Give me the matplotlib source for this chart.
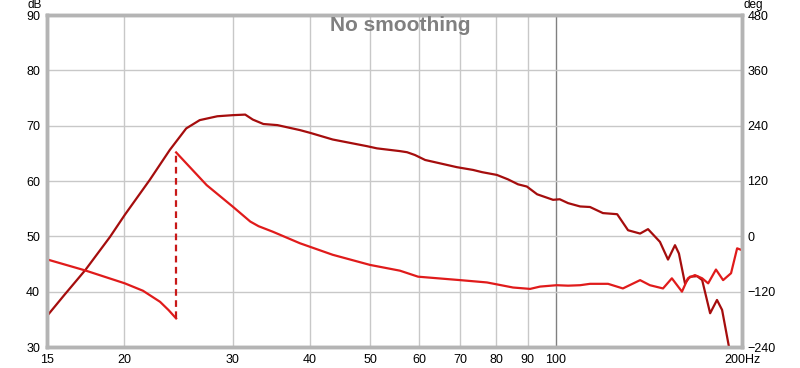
import matplotlib.pyplot as plt

# SPL curve (dB)
spl_freq = [15, 16, 17.3, 18.97, 20.05, 22.0, 23.7, 25.2, 26.5, 28.3, 30, 31.4, 32.3,
            33.6, 35.4, 38.5, 40, 43.5, 49.4, 51.3, 55.9, 57.4, 59.1, 61.4, 69.1, 73.4,
            75.9, 80.2, 83.6, 86.8, 89.7, 93.2, 98.9, 101.4, 104.6, 109.4, 113.5, 119.1,
            125.6, 130.8, 136.8, 140.9, 147.3, 151.8, 155.8, 158.1, 161.7, 164.7, 169.2,
            172.4, 177.6, 182.2, 185.7, 190.5]
spl_db = [35.6, 39.4, 43.9, 49.9, 53.9, 60.2, 65.6, 69.5, 71.0, 71.7, 71.9, 72.0, 71.1,
          70.3, 70.1, 69.2, 68.7, 67.5, 66.3, 65.9, 65.4, 65.2, 64.7, 63.8, 62.5, 62.0,
          61.6, 61.1, 60.3, 59.4, 59.0, 57.6, 56.6, 56.7, 56.0, 55.4, 55.3, 54.2,
          54.0, 51.1, 50.5, 51.3, 49.0, 45.8, 48.4, 46.9, 41.5, 42.7, 42.8,
          42.1, 36.1, 38.5, 36.7, 30.05]

# phase (deg), wrapped at ~24.3 Hz
ph1_freq = [15, 17.3, 20.05, 21.45, 22.86, 23.6, 24.27]
ph1_deg = [-50, -74, -102, -118, -142, -160, -178]
ph2_freq = [24.27, 27.2, 30, 32, 33, 34.8, 38.5, 43.5, 50, 55.9, 59.8, 70, 77.3, 85.2,
            90.8, 94.2, 100.2, 104.6, 109.4, 113.5, 121.4, 128.3, 136.8, 141.9, 149,
            154, 159.9, 163.5, 167.8, 172.4, 176.3, 181.5, 186.4, 192.0, 196.4, 200]
ph2_deg = [182, 111, 64, 32, 22, 10, -15, -40, -62, -74.5, -87.5, -95, -100, -111,
           -114, -109, -106, -107, -106, -103, -103, -113, -95, -106, -113,
           -91, -120, -91, -84, -91, -102, -72, -95, -80, -26, -30]

xticks = [15, 20, 30, 40, 50, 60, 70, 80, 90, 100, 200]
xlabels = ["15", "20", "30", "40", "50", "60", "70", "80", "90", "100", "200Hz"]
db_ticks = [30, 40, 50, 60, 70, 80, 90]
deg_ticks = [-240, -120, 0, 120, 240, 360, 480]

plt.rcParams["font.family"] = ["Liberation Sans", "DejaVu Sans"]

fig = plt.figure(figsize=(8, 3.68), dpi=100)
ax = fig.add_axes([47 / 800, 21 / 368, 695 / 800, 332 / 368])
ax.set_xscale("log")
ax.set_xlim(15, 200)
ax.set_ylim(30, 90)

# grid
for f in xticks[1:-1]:
    ax.axvline(f, color="#808080" if f == 100 else "#c8c8c8", lw=1, zorder=0)
for d in db_ticks[1:-1]:
    ax.axhline(d, color="#c8c8c8", lw=1, zorder=0)

ax.plot(spl_freq, spl_db, color="#a50d0d", lw=1.6, zorder=3)

ax.set_xticks(xticks)
ax.set_xticklabels(xlabels)
ax.xaxis.set_minor_locator(plt.NullLocator())
ax.set_yticks(db_ticks)
ax.tick_params(length=0, labelsize=9, pad=5)

ax2 = ax.twinx()
ax2.set_ylim(-240, 480)
ax2.set_yticks(deg_ticks)
ax2.tick_params(length=0, labelsize=9, pad=4)
ax2.plot(ph1_freq, ph1_deg, color="#e01b1b", lw=1.6)
ax2.plot(ph2_freq, ph2_deg, color="#e01b1b", lw=1.6)
ax2.plot([ph1_freq[-1], ph2_freq[0]], [ph1_deg[-1], ph2_deg[0]],
         color="#c81818", lw=1.6, ls=(0, (3, 2)))

for a in (ax, ax2):
    for s in a.spines.values():
        s.set_color("#b4b4b4")
        s.set_linewidth(2.5)

fig.text(42 / 800, 1 - 8 / 368, "dB", ha="right", va="baseline", fontsize=8.5)
fig.text(744 / 800, 1 - 8 / 368, "deg", ha="left", va="baseline", fontsize=8.5)
fig.text(0.5, 1 - 31 / 368, "No smoothing", ha="center", va="baseline",
         fontsize=15, fontweight="bold", color="#808080")

fig.savefig("out.png", dpi=100)
